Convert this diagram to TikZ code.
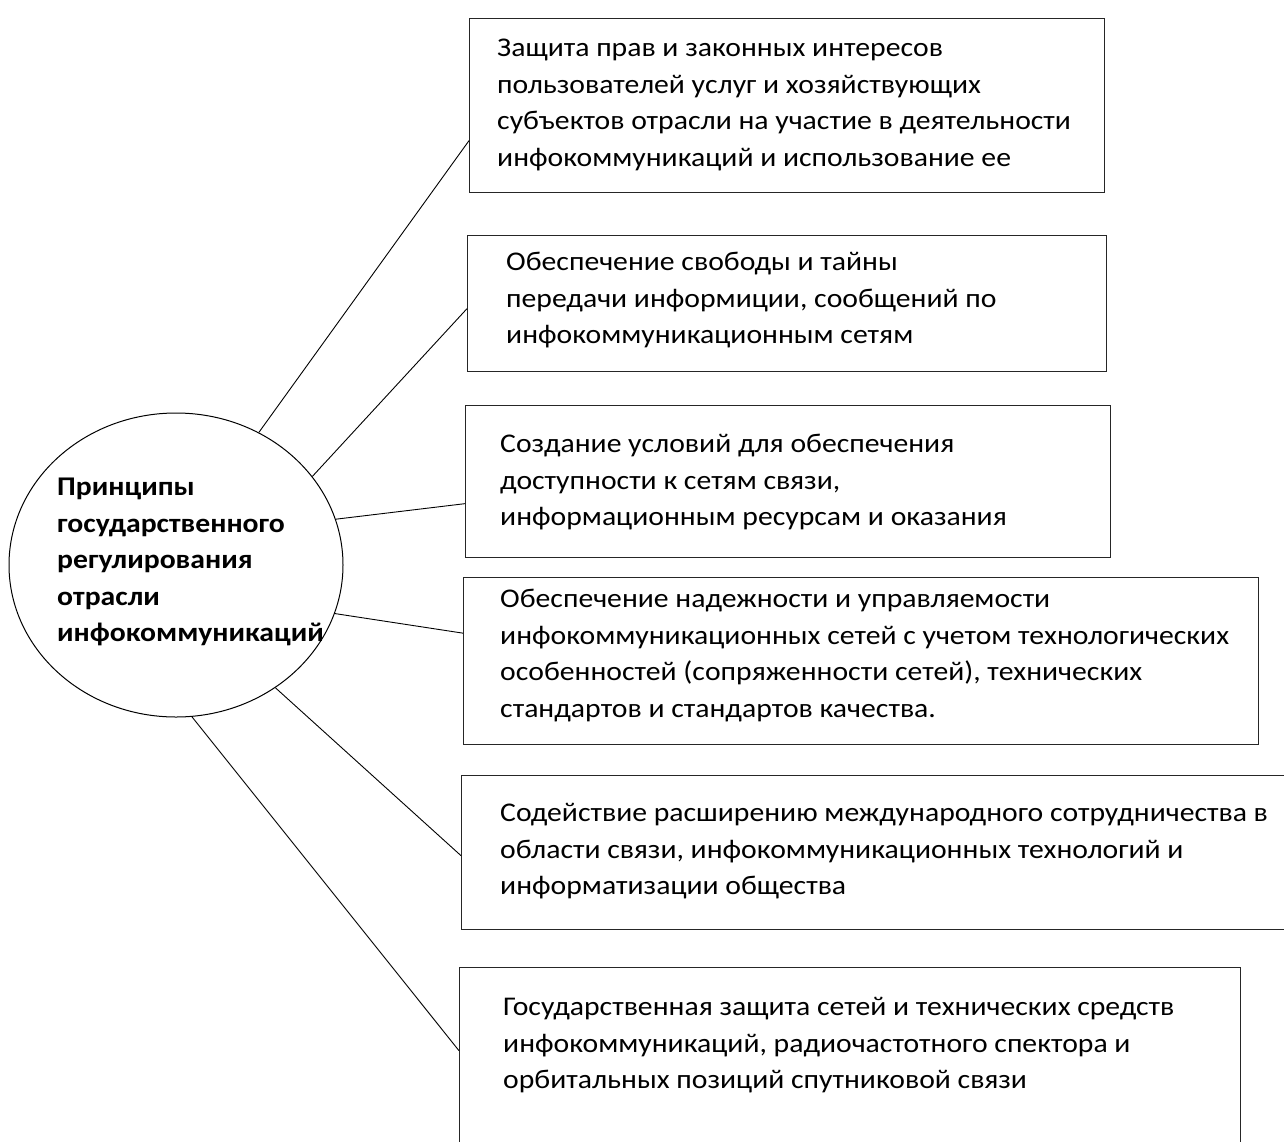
\documentclass[tikz,border=0pt]{standalone}
\usepackage{fontspec}
\setmainfont{Carlito}[FakeStretch=1.1]
\usetikzlibrary{shapes.geometric}

\begin{document}
\begin{tikzpicture}[x=1pt, y=-1pt,
    box/.style = {draw=black!85, line width=1.3pt, inner sep=0pt, anchor=north west},
    txt/.style = {anchor=north west, inner sep=0pt, align=left, font=\fontsize{27}{36.5}\selectfont},
    hub/.style = {draw, ellipse, line width=1pt, inner sep=0pt, minimum width=334pt, minimum height=304pt},
    link/.style = {line width=0.9pt}]
    \useasboundingbox (0,0) rectangle (1284,1141);

    \node[hub](hub) at (176,565) {};
    \node[txt, font=\fontsize{27}{36.5}\selectfont\bfseries](hubtext) at (57,478.2) {Принципы\\государственного\\регулирования\\отрасли\\инфокоммуникаций};

    \node[box, minimum width=635pt, minimum height=174pt](b1) at (469,18) {};
    \node[box, minimum width=639pt, minimum height=136pt](b2) at (467,235) {};
    \node[box, minimum width=645pt, minimum height=152pt](b3) at (465,405) {};
    \node[box, minimum width=795pt, minimum height=167pt](b4) at (463,577) {};
    \node[box, minimum width=830pt, minimum height=154pt](b5) at (461,775) {};
    \node[box, minimum width=781pt, minimum height=190pt](b6) at (459,967) {};

    \node[txt](t1) at (497,39.2) {Защита прав и законных интересов\\пользователей услуг и хозяйствующих\\субъектов отрасли на участие в деятельности\\инфокоммуникаций и использование ее};
    \node[txt](t2) at (506,252) {Обеспечение свободы и тайны\\передачи информиции, сообщений по\\инфокоммуникационным сетям};
    \node[txt](t3) at (500,434.2) {Создание условий для обеспечения\\доступности к сетям связи,\\информационным ресурсам и оказания};
    \node[txt](t4) at (500,589.2) {Обеспечение надежности и управляемости\\инфокоммуникационных сетей с учетом технологических\\особенностей (сопряженности сетей), технических\\стандартов и стандартов качества.};
    \node[txt](t5) at (500,803.2) {Содействие расширению международного сотрудничества в\\области связи, инфокоммуникационных технологий и\\информатизации общества};
    \node[txt](t6) at (503,997.2) {Государственная защита сетей и технических средств\\инфокоммуникаций, радиочастотного спектора и\\орбитальных позиций спутниковой связи};

    \draw[link](hub.58.4) -- ([yshift=-35pt]b1.west);
    \draw[link](hub.33.3) -- ([yshift=-5pt]b2.west);
    \draw[link](hub.16.7) -- ([yshift=-22pt]b3.west);
    \draw[link](hub.-17.8) -- ([yshift=28pt]b4.west);
    \draw[link](hub.-51) -- ([yshift=-3pt]b5.west);
    \draw[link](hub.-84.4) -- ([yshift=12pt]b6.west);
\end{tikzpicture}
\end{document}
